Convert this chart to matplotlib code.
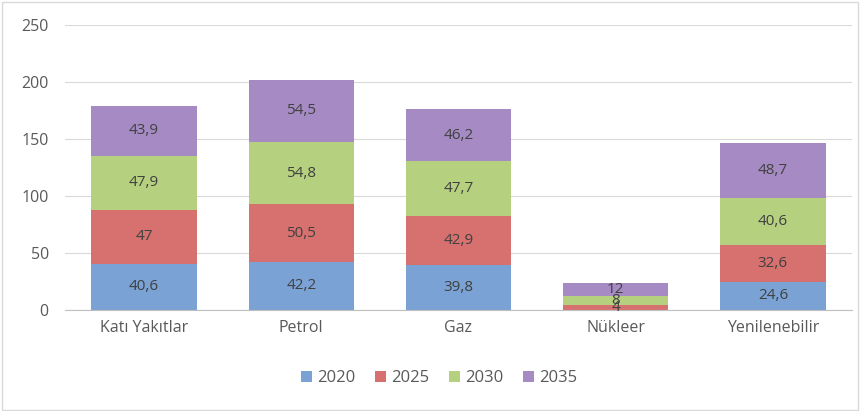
import matplotlib.pyplot as plt
import numpy as np
from matplotlib.patches import Rectangle

plt.rcParams["font.family"] = ["Open Sans", "DejaVu Sans"]

# %% Data
categories = ["Katı Yakıtlar", "Petrol", "Gaz", "Nükleer", "Yenilenebilir"]
years = ["2020", "2025", "2030", "2035"]
v2020 = [40.6, 42.2, 39.8, 0, 24.6]
v2025 = [47, 50.5, 42.9, 4, 32.6]
v2030 = [47.9, 54.8, 47.7, 8, 40.6]
v2035 = [43.9, 54.5, 46.2, 12, 48.7]
colors = ["#7ba2d4", "#d6716f", "#b5d07e", "#a68ac4"]

# %% Plot
fig = plt.figure(figsize=(8.61, 4.11), dpi=100)
fig.patches.append(Rectangle((0.002, 0.003), 0.995, 0.992, transform=fig.transFigure,
                             fill=False, ec="#d9d9d9", lw=1))
ax = fig.add_axes([0.076, 0.246, 0.913, 0.693])

x = np.arange(len(categories))
bottom = np.zeros(len(categories))
for year, vals, c in zip(years, [v2020, v2025, v2030, v2035], colors):
    vals = np.array(vals, dtype=float)
    ax.bar(x, vals, 0.67, bottom=bottom, color=c, label=year, zorder=2)
    for xi, b, v in zip(x, bottom, vals):
        if v > 0:
            ax.text(xi, b + v / 2, f"{v:g}".replace(".", ","), ha="center", va="center",
                    fontsize=11, color="#404040", zorder=3)
    bottom += vals

ax.set_xlim(-0.5, 4.5)
ax.set_ylim(0, 250)
ax.set_yticks(range(0, 251, 50))
ax.set_xticks(x)
ax.set_xticklabels(categories)
ax.grid(axis="y", color="#d9d9d9", lw=0.8, zorder=0)
for s in ["top", "right", "left"]:
    ax.spines[s].set_visible(False)
ax.spines["bottom"].set_color("#bfbfbf")
ax.tick_params(length=0, labelsize=11.5, colors="#595959", pad=7)
ax.tick_params(axis="y", pad=12)

fig.legend(loc="center", bbox_to_anchor=(0.51, 0.08), ncol=4, frameon=False,
           fontsize=12, labelcolor="#595959", handlelength=0.65, handleheight=0.65,
           handletextpad=0.3, columnspacing=1.2)

fig.savefig("out.png", dpi=100)
